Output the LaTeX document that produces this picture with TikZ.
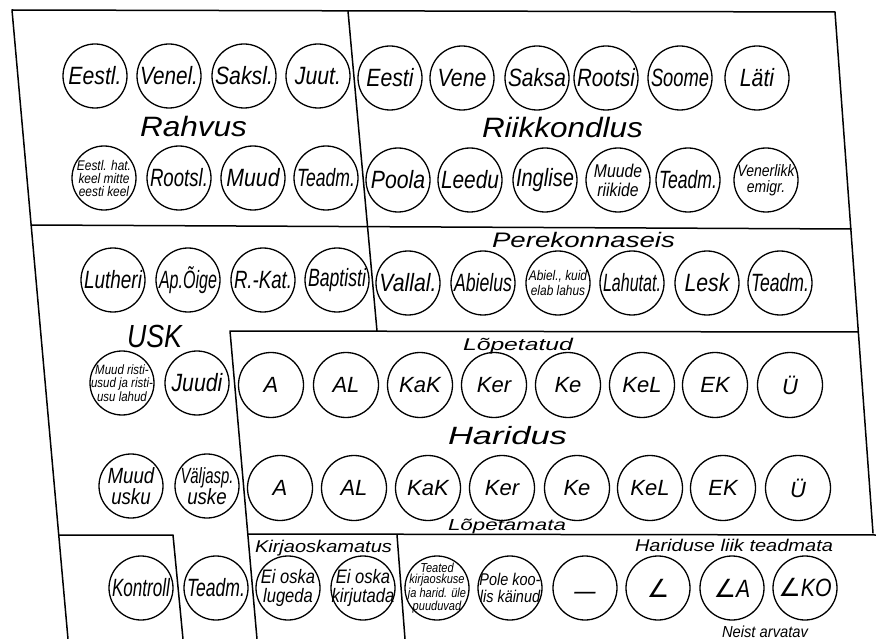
\documentclass[tikz,border=0pt]{standalone}
\usepackage{fontspec}
\usepackage{graphicx}
\setmainfont{Liberation Sans}[FakeStretch=0.85]
\newfontfamily\widef{Liberation Sans}
\newfontfamily\symf{DejaVu Sans}
\newsavebox\fitbox
\newdimen\fitdim
\newcommand\fitw[2][58]{\sbox\fitbox{#2}\ifdim\wd\fitbox>#1pt\relax\fitdim=\wd\fitbox\pgfmathsetmacro\fitsc{#1/\fitdim}\scalebox{\fitsc}[1]{\usebox\fitbox}\else\usebox\fitbox\fi}
\newcommand\setw[2]{\sbox\fitbox{#2}\fitdim=\wd\fitbox\pgfmathsetmacro\fitsc{#1/\fitdim}\scalebox{\fitsc}[1]{\usebox\fitbox}}
\tikzset{
  frame/.style={line width=1.5pt, line cap=round, line join=round},
  ctext/.style={font=\fontsize{25}{27}\selectfont\itshape, inner sep=0pt},
  htext/.style={font=\widef\itshape\fontsize{22}{24}\selectfont, inner sep=0pt},
  cell/.style={circle, draw, line width=1.3pt, minimum size=64pt, inner sep=0pt, label={[ctext]center:\fitw{#1}}},
  mcell/.style n args={3}{circle, draw, line width=1.3pt, minimum size=64pt, inner sep=0pt, label={[ctext, align=center, font=\fontsize{#1}{#2}\selectfont\itshape]center:{#3}}},
  hcell/.style={circle, draw, line width=1.3pt, minimum size=65pt, inner sep=0pt, label={[htext]center:#1}},
  lab/.style={anchor=base, inner sep=0pt},
}
\begin{document}
\begin{tikzpicture}[x=1pt,y=-1pt]
\useasboundingbox (0,0) rectangle (876,639);
% frame coordinates
\coordinate (TL) at (12,10);
\coordinate (TR) at (835,12);
\coordinate (BL) at (68,639);
\coordinate (RB) at (873,533);
\coordinate (D1) at (348,11);
\coordinate (D2) at (377,331);
\coordinate (H1a) at (31,225);
\coordinate (H1b) at (851,229);
\coordinate (HT1) at (230,331);
\coordinate (HT2) at (858,332);
\coordinate (HL2) at (257,639);
\coordinate (HB1) at (248,534);
\coordinate (HB2) at (876,535);
\coordinate (K1) at (59,535);
\coordinate (K2) at (173,535);
\coordinate (K3) at (183,639);
\coordinate (V1) at (397,535);
\coordinate (V2) at (405,639);
\draw[frame] (BL) -- (TL) -- (TR) -- (RB);
\draw[frame] (D1) -- (D2);
\draw[frame] (H1a) -- (H1b);
\draw[frame] (HL2) -- (HT1) -- (HT2);
\draw[frame] (HB1) -- (HB2);
\draw[frame] (K1) -- (K2) -- (K3);
\draw[frame] (V1) -- (V2);

% Rahvus
\node[cell={Eestl.}] (ra1) at (95,76) {};
\node[cell={Venel.}] (ra2) at (169,76) {};
\node[cell={Saksl.}] (ra3) at (244,76) {};
\node[cell={Juut.}] (ra4) at (318,76) {};
\node[mcell={14}{13}{Eestl. hat.\\keel mitte\\eesti keel}] (rb1) at (104,178) {};
\node[cell={Rootsl.}] (rb2) at (179,178) {};
\node[cell={Muud}] (rb3) at (253,178) {};
\node[cell={Teadm.}] (rb4) at (326,178) {};
\node[lab, font=\widef\itshape\fontsize{28}{30}\selectfont] (lrahvus) at (193.5,137) {\setw{107}{Rahvus}};

% Riikkondlus
\node[cell={Eesti}] (ka1) at (390,78) {};
\node[cell={Vene}] (ka2) at (462,78) {};
\node[cell={Saksa}] (ka3) at (537,78) {};
\node[cell={Rootsi}] (ka4) at (606,78) {};
\node[cell={Soome}] (ka5) at (680,78) {};
\node[cell={Läti}] (ka6) at (757,78) {};
\node[cell={Poola}] (kb1) at (398,180) {};
\node[cell={Leedu}] (kb2) at (470,180) {};
\node[cell={Inglise}] (kb3) at (545,180) {};
\node[mcell={18.5}{19}{Muude\\riikide}] (kb4) at (618,180) {};
\node[cell={Teadm.}] (kb5) at (688,180) {};
\node[mcell={16.5}{16.5}{Venerlikk\\emigr.}] (kb6) at (766,180) {};
\node[lab, font=\widef\itshape\fontsize{28}{30}\selectfont] (lriik) at (562.5,138) {\setw{161}{Riikkondlus}};

% Usk
\node[cell={Lutheri}] (ua1) at (113,280) {};
\node[cell={Ap.Õige}] (ua2) at (188,280) {};
\node[cell={R.-Kat.}] (ua3) at (263,280) {};
\node[cell={Baptisti}] (ua4) at (337,280) {};
\node[mcell={13.5}{13.5}{Muud risti-\\usud ja risti-\\usu lahud}] (ub1) at (122,383) {};
\node[cell={Juudi}] (ub2) at (197,383) {};
\node[mcell={22}{21.5}{Muud\\usku}] (uc1) at (131,486) {};
\node[mcell={22}{21.5}{\fitw[53]{Väljasp.}\\uske}] (uc2) at (207,486) {};
\node[lab, font=\widef\itshape\fontsize{32}{34}\selectfont] (lusk) at (154.5,347) {\setw{55}{USK}};

% Perekonnaseis
\node[cell={Vallal.}] (pa1) at (408,283) {};
\node[cell={Abielus}] (pa2) at (483,283) {};
\node[mcell={14}{15}{Abiel., kuid\\elab lahus}] (pa3) at (558,283) {};
\node[cell={Lahutat.}] (pa4) at (632,283) {};
\node[cell={Lesk}] (pa5) at (707,283) {};
\node[cell={Teadm.}] (pa6) at (780,283) {};
\node[lab, font=\widef\itshape\fontsize{21}{23}\selectfont] (lperek) at (583.5,248) {\setw{183}{Perekonnaseis}};

% Haridus
\node[hcell={A}] (ha1) at (271,385) {};
\node[hcell={AL}] (ha2) at (346,385) {};
\node[hcell={KaK}] (ha3) at (420,385) {};
\node[hcell={Ker}] (ha4) at (494,385) {};
\node[hcell={Ke}] (ha5) at (568,385) {};
\node[hcell={KeL}] (ha6) at (642,385) {};
\node[hcell={EK}] (ha7) at (715,385) {};
\node[hcell={Ü}] (ha8) at (790,385) {};
\node[hcell={A}] (hb1) at (280,488) {};
\node[hcell={AL}] (hb2) at (354,488) {};
\node[hcell={KaK}] (hb3) at (428,488) {};
\node[hcell={Ker}] (hb4) at (502,488) {};
\node[hcell={Ke}] (hb5) at (577,488) {};
\node[hcell={KeL}] (hb6) at (650,488) {};
\node[hcell={EK}] (hb7) at (723,488) {};
\node[hcell={Ü}] (hb8) at (798,488) {};
\node[lab, font=\widef\itshape\fontsize{17}{19}\selectfont] (llopetatud) at (518,350) {\setw{110}{Lõpetatud}};
\node[lab, font=\widef\itshape\fontsize{25}{27}\selectfont] (lharidus) at (507.5,444) {\setw{119}{Haridus}};
\node[lab, font=\widef\itshape\fontsize{16}{18}\selectfont] (llopetamata) at (507,530) {\setw{118}{Lõpetamata}};

% bottom row
\node[cell={Kontroll}] (bo1) at (141,588) {};
\node[cell={Teadm.}] (bo2) at (216,588) {};
\node[mcell={19.5}{19}{Ei oska\\lugeda}] (bo3) at (288,588) {};
\node[mcell={19.5}{19}{Ei oska\\kirjutada}] (bo4) at (363,588) {};
\node[mcell={13}{11.5}{Teated\\kirjaoskuse\\ja harid. üle\\puuduvad}] (bo5) at (437,588) {};
\node[mcell={17}{17}{Pole koo-\\lis käinud}] (bo6) at (510,588) {};
\node[cell={\raisebox{-11pt}[0pt][0pt]{—}}] (bo7) at (585,588) {};
\node[cell={{\symf ∠}}] (bo8) at (658,588) {};
\node[cell={{\symf ∠}A}] (bo9) at (732,588) {};
\node[cell={{\symf ∠}KO}] (bo10) at (805,588) {};
\node[lab, font=\widef\itshape\fontsize{17}{19}\selectfont] (lkirja) at (323.5,552) {\setw{137}{Kirjaoskamatus}};
\node[lab, font=\widef\itshape\fontsize{17}{19}\selectfont] (lliik) at (734,551) {\setw{198}{Hariduse liik teadmata}};
\node[lab, font=\widef\itshape\fontsize{16}{18}\selectfont] (lneist) at (765,637) {\setw{86}{Neist arvatav}};
\end{tikzpicture}
\end{document}
